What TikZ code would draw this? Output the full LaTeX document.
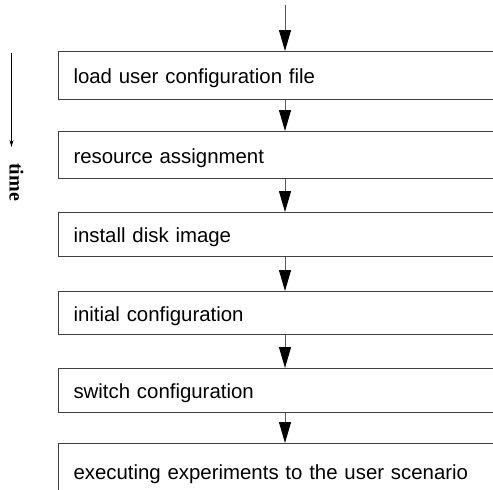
\documentclass[tikz,border=0pt]{standalone}
\usepackage{fontspec}
\setmainfont{Liberation Serif}
\setsansfont{Liberation Sans}
\usetikzlibrary{arrows.meta}
\begin{document}
\begin{tikzpicture}[x=1pt, y=-1pt,
  stepbox/.style={draw=black!75, line width=1pt, anchor=north west,
    minimum width=460pt, inner xsep=14pt, inner ysep=0pt,
    text height=16pt, text depth=0pt, text width=430pt, align=left,
    font=\sffamily\fontsize{20.4pt}{24pt}\selectfont},
  flow/.style={draw=black!65, line width=1pt,
    -{Triangle[length=21pt, width=12pt, fill=black, color=black]}},
  timeline/.style={draw=black, line width=0.8pt,
    -{Stealth[length=7pt, width=4pt]}}]
  \useasboundingbox (0,0) rectangle (493,490);
  \clip (0,0) rectangle (493,490);

  % process steps, top to bottom
  \node[stepbox, minimum height=48pt] (b1) at (58,51)  {load user configuration file};
  \node[stepbox, minimum height=47pt] (b2) at (58,131) {resource assignment};
  \node[stepbox, minimum height=44pt] (b3) at (58,212) {install disk image};
  \node[stepbox, minimum height=43pt] (b4) at (58,291) {initial configuration};
  \node[stepbox, minimum height=44pt] (b5) at (58,368) {switch configuration};
  \node[stepbox, minimum height=56pt] (b6) at (58,443) {executing experiments to the user scenario};

  % flow arrows along a common vertical axis
  \coordinate (start) at (285,5);
  \draw[flow] (start) -- (b1.north -| start);
  \draw[flow] (b1.south -| start) -- (b2.north -| start);
  \draw[flow] (b2.south -| start) -- (b3.north -| start);
  \draw[flow] (b3.south -| start) -- (b4.north -| start);
  \draw[flow] (b4.south -| start) -- (b5.north -| start);
  \draw[flow] (b5.south -| start) -- (b6.north -| start);

  % time axis
  \coordinate (t0) at (11.5,53);
  \coordinate (t1) at (11.5,147);
  \draw[timeline] (t0) -- (t1);
  \node[rotate=-90, font=\rmfamily\bfseries\fontsize{20pt}{24pt}\selectfont,
    inner sep=0pt] (timelabel) at (16.5,182) {time};
\end{tikzpicture}
\end{document}
